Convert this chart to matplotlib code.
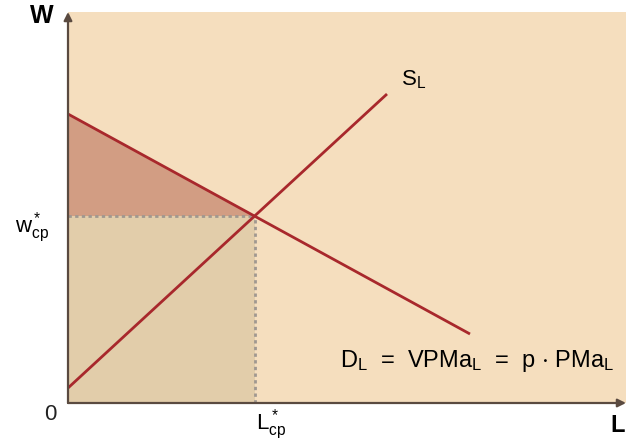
import matplotlib
matplotlib.use("Agg")
import matplotlib.pyplot as plt
import numpy as np
from matplotlib.patches import Polygon, Rectangle

plt.rcParams['font.family'] = ['Liberation Sans', 'DejaVu Sans']
plt.rcParams['mathtext.fontset'] = 'custom'
plt.rcParams['mathtext.rm'] = 'Liberation Sans'
plt.rcParams['mathtext.it'] = 'Liberation Sans'
plt.rcParams['mathtext.bf'] = 'Liberation Sans:bold'

# Line endpoints (data units)
demand_x = [0, 402]
demand_y = [289, 69]
supply_x = [0, 319]
supply_y = [15, 309]
xmax, ymax = 558, 391

# Equilibrium
sd = (demand_y[1] - demand_y[0]) / (demand_x[1] - demand_x[0])
ss = (supply_y[1] - supply_y[0]) / (supply_x[1] - supply_x[0])
Le = (demand_y[0] - supply_y[0]) / (ss - sd)
we = demand_y[0] + sd * Le

W, H = 626, 444
fig = plt.figure(figsize=(W / 100, H / 100), dpi=100)
fig.patch.set_facecolor('white')
ax = fig.add_axes([68 / W, 1 - 403 / H, (626 - 68) / W, (403 - 12) / H])
ax.set_xlim(0, xmax)
ax.set_ylim(0, ymax)
ax.set_facecolor('#F5DEBE')
for s in ax.spines.values():
    s.set_visible(False)
ax.set_xticks([])
ax.set_yticks([])

line_col = '#A8282C'
# Surplus rectangle
ax.add_patch(Rectangle((0, 0), Le, we, facecolor='#E2CDAA', edgecolor='none', zorder=1))
# Triangle
ax.add_patch(Polygon([[0, demand_y[0]], [0, we], [Le, we]], closed=True,
                     facecolor='#D29D83', edgecolor='none', zorder=1))

ax.plot(demand_x, demand_y, color=line_col, lw=2, zorder=3, solid_capstyle='butt')
ax.plot(supply_x, supply_y, color=line_col, lw=2, zorder=3, solid_capstyle='butt')

ax.plot([0, Le], [we, we], color='#A09890', lw=2, ls=(0, (1.2, 1.2)), zorder=2)
ax.plot([Le, Le], [0, we], color='#A09890', lw=2, ls=(0, (1.2, 1.2)), zorder=2)

# Axes with arrows
ax.annotate('', xy=(0, ymax), xytext=(0, 0), xycoords='data',
            arrowprops=dict(arrowstyle='-|>', color='#5A4A40', lw=1.6,
                            mutation_scale=12, shrinkA=0, shrinkB=0),
            annotation_clip=False, zorder=5)
ax.annotate('', xy=(xmax, 0), xytext=(0, 0), xycoords='data',
            arrowprops=dict(arrowstyle='-|>', color='#5A4A40', lw=1.6,
                            mutation_scale=12, shrinkA=0, shrinkB=0),
            annotation_clip=False, zorder=5)

fs = 16
ax.text(-26, ymax - 4, 'W', fontsize=18, fontweight='bold', ha='center', va='center')
ax.text(xmax - 1, -22, 'L', fontsize=17, fontweight='bold', ha='right', va='center')
ax.text(-18, -11, '0', fontsize=fs, ha='center', va='center', color='#222222')
ax.text(-36, we - 12, r'$\mathregular{w^*_{cp}}$', fontsize=fs, ha='center', va='center')
ax.text(Le + 17, -22, r'$\mathregular{L^*_{cp}}$', fontsize=fs, ha='center', va='center')
ax.text(supply_x[1] + 27, supply_y[1] + 14, r'$\mathregular{S_L}$', fontsize=fs, ha='center', va='center')
ax.text(546, 42, r'D$\mathregular{_L}$  =  VPMa$\mathregular{_L}$  =  p $\mathregular{\cdot}$ PMa$\mathregular{_L}$',
        fontsize=17, ha='right', va='center')

fig.savefig('out.png', dpi=100)
